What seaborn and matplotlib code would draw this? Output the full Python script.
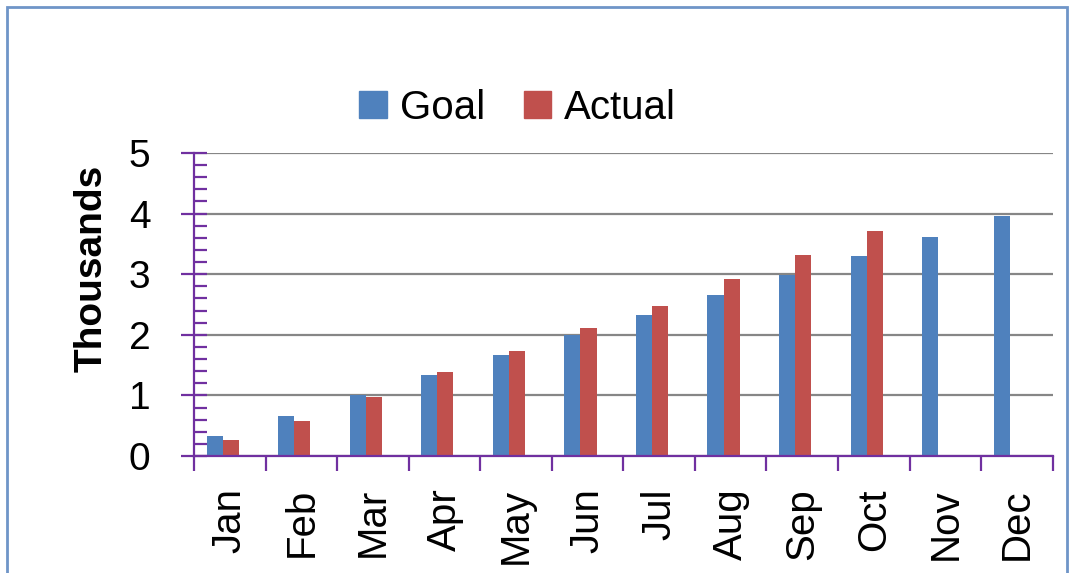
import matplotlib
matplotlib.use("Agg")
import matplotlib.pyplot as plt
import seaborn as sns
import pandas as pd
from matplotlib.patches import Rectangle
from matplotlib.ticker import MultipleLocator, FixedLocator

months = ["Jan", "Feb", "Mar", "Apr", "May", "Jun", "Jul", "Aug", "Sep", "Oct", "Nov", "Dec"]
goal = [0.33, 0.66, 1.0, 1.33, 1.66, 2.0, 2.32, 2.65, 2.98, 3.3, 3.62, 3.96]
actual = [0.27, 0.58, 0.97, 1.39, 1.74, 2.12, 2.47, 2.92, 3.31, 3.71, None, None]

df = pd.DataFrame({
    "month": months * 2,
    "value": goal + actual,
    "series": ["Goal"] * 12 + ["Actual"] * 12,
})

sns.set_style("white")
plt.rcParams["font.family"] = ["Liberation Sans", "DejaVu Sans"]
plt.rcParams["text.color"] = "black"
plt.rcParams["xtick.color"] = "black"
plt.rcParams["ytick.color"] = "black"
plt.rcParams["axes.labelcolor"] = "black"

purple = "#7030A0"
fig = plt.figure(figsize=(10.72, 5.73), dpi=100)
ax = fig.add_axes([0.181, 0.204, 0.801, 0.529])

sns.barplot(data=df, x="month", y="value", hue="series", order=months,
            palette={"Goal": "#4F81BD", "Actual": "#C0504D"}, width=0.45,
            saturation=1, linewidth=0, ax=ax, legend=False)

ax.set_ylim(0, 5)
ax.set_xlim(-0.4, 11.6)
ax.yaxis.set_major_locator(MultipleLocator(1))
ax.yaxis.set_minor_locator(MultipleLocator(0.2))
ax.grid(axis="y", which="major", color="#868686", linewidth=1.6)
ax.set_axisbelow(True)

for s in ["top", "right"]:
    ax.spines[s].set_visible(False)
for s in ["left", "bottom"]:
    ax.spines[s].set_color(purple)
    ax.spines[s].set_linewidth(1.6)
    ax.spines[s].set_zorder(5)

ax.tick_params(axis="y", which="both", left=True)
ax.tick_params(axis="y", which="major", direction="inout", length=19, width=1.6,
               color=purple, labelsize=28, pad=22, labelcolor="black")
ax.tick_params(axis="y", which="minor", direction="in", length=9, width=1.6, color=purple)

ax.set_xticks([i + 0.1 for i in range(12)])
ax.set_xticklabels(months, rotation=90, fontsize=29)
ax.tick_params(axis="x", which="both", bottom=True)
ax.tick_params(axis="x", which="major", length=0, pad=23, labelcolor="black")
ax.xaxis.set_minor_locator(FixedLocator([i - 0.4 for i in range(13)]))
ax.tick_params(axis="x", which="minor", direction="out", length=11, width=1.6, color=purple)

ax.set_xlabel("")
ax.set_ylabel("Thousands", fontsize=28, fontweight="bold")
ax.yaxis.set_label_coords(-0.098, 0.62)

handles = [Rectangle((0, 0), 1, 1, color="#4F81BD"), Rectangle((0, 0), 1, 1, color="#C0504D")]
fig.legend(handles, ["Goal", "Actual"], loc="center", bbox_to_anchor=(0.483, 0.812),
           ncol=2, frameon=False, fontsize=29, handlelength=0.68, handleheight=0.68,
           handletextpad=0.33, columnspacing=0.95)

fig.patches.append(Rectangle((7 / 1072, -0.05), 1060 / 1072, 1 - 7 / 573 + 0.05,
                             transform=fig.transFigure, fill=False,
                             edgecolor="#6F95C8", linewidth=2))

fig.savefig("out.png", dpi=100)
